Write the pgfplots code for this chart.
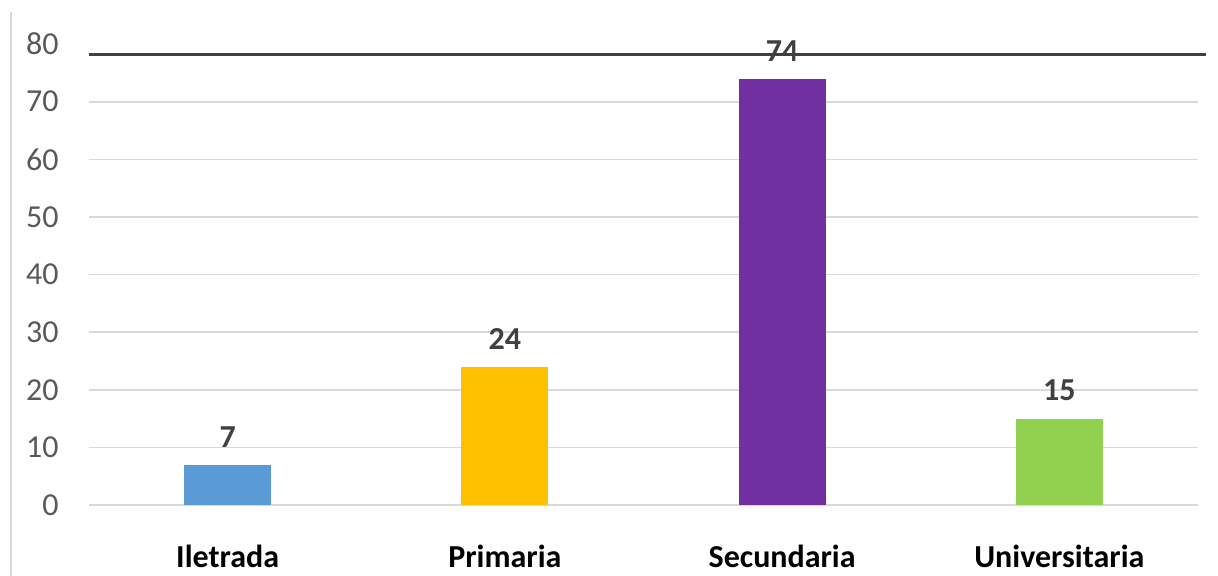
\documentclass[border=0pt]{standalone}
\usepackage{pgfplots}
\pgfplotsset{compat=1.18}
\usepackage{fontspec}
\setmainfont{Carlito}

\definecolor{barblue}{HTML}{5B9BD5}
\definecolor{bargold}{HTML}{FFC000}
\definecolor{barpurple}{HTML}{7030A0}
\definecolor{bargreen}{HTML}{92D050}
\definecolor{gridgray}{HTML}{D9D9D9}
\definecolor{ticktext}{HTML}{595959}
\definecolor{valtext}{HTML}{404040}

\begin{document}
\begin{tikzpicture}
\begin{axis}[
  scale only axis,
  width=554.5pt, height=230.45pt,
  xmin=-0.5, xmax=3.5,
  ymin=0, ymax=80,
  clip=false,
  axis line style={draw=none},
  major tick style={draw=none},
  ytick={0,10,...,70},
  extra y ticks={80},
  extra y tick style={grid=none},
  ymajorgrids,
  grid style={gridgray, line width=0.8pt},
  xtick={0,1,2,3},
  xticklabels={Iletrada, Primaria, Secundaria, Universitaria},
  xticklabel style={anchor=base, yshift=-27pt, font=\fontsize{16}{19}\selectfont\bfseries, text=black},
  yticklabel style={anchor=east, inner sep=0pt, xshift=-15pt, font=\fontsize{16}{19}\selectfont, text=ticktext},
  /pgf/number format/assume math mode=true,
  ybar, bar width=0.314, bar shift=0pt,
  nodes near coords,
  every node near coord/.append style={anchor=south, inner sep=0pt, yshift=8.5pt,
    font=\fontsize{16}{19}\selectfont\bfseries, text=valtext},
]
\addplot[fill=barblue, draw=none] coordinates {(0,7)};
\addplot[fill=bargold, draw=none] coordinates {(1,24)};
\addplot[fill=barpurple, draw=none] coordinates {(2,74)};
\addplot[fill=bargreen, draw=none] coordinates {(3,15)};
% dark rule across the top of the plot
\draw[valtext, line width=1.5pt] (axis cs:-0.5,78.2) -- (axis cs:3.53,78.2);
% chart frame edge on the left
\draw[gridgray, line width=1pt] (axis cs:-0.781,85.6) -- (axis cs:-0.781,-13);
\end{axis}
\pgfresetboundingbox
\useasboundingbox (-44.5pt,-35.5pt) rectangle (564.5pt,252.5pt);
\end{tikzpicture}
\end{document}
